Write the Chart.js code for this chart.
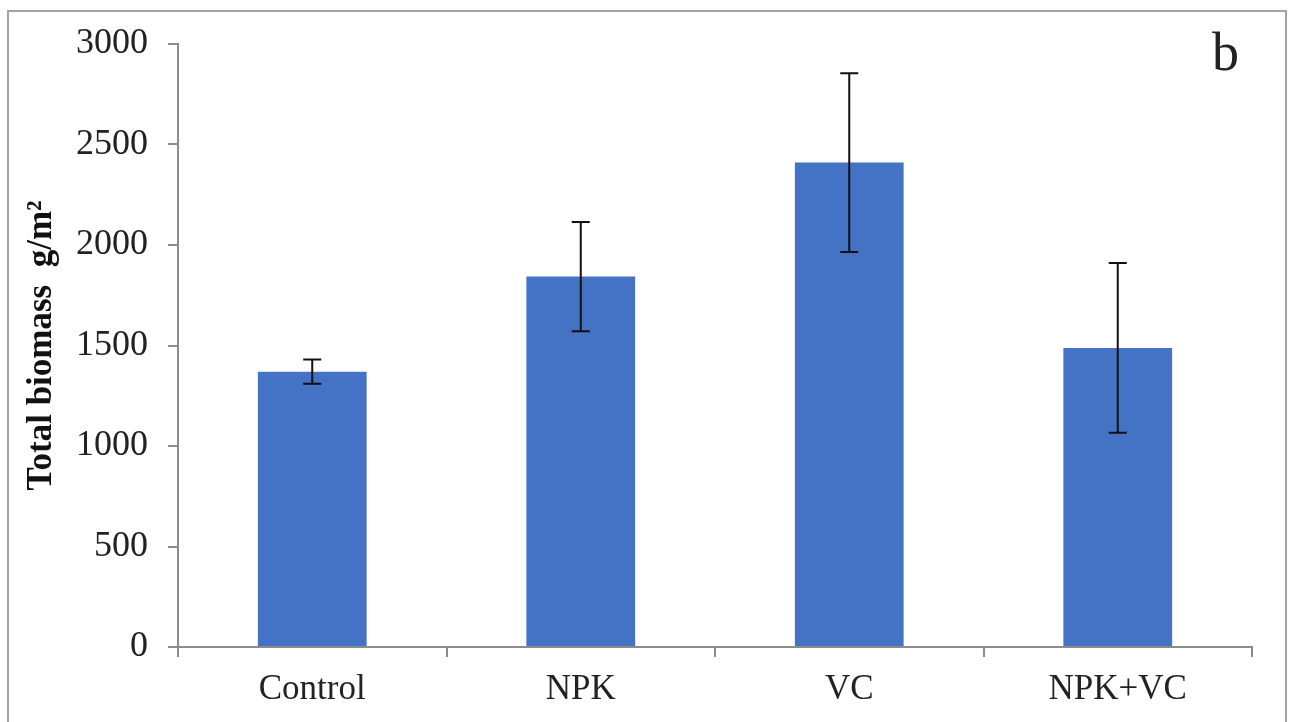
<!DOCTYPE html>
<html lang="en">
  <head>
    <meta charset="UTF-8" />
    <title>Total biomass</title>
    <script src="https://cdn.jsdelivr.net/npm/chart.js"></script>
    <style>
      * {
        margin: 0;
        padding: 0;
        box-sizing: border-box;
      }

      body {
        width: 1289px;
        height: 722px;
        background: #fff;
        overflow: hidden;
        position: relative;
      }

      #frame {
        position: absolute;
        left: 7px;
        top: 10px;
        width: 1280px;
        height: 720px;
        border: 2px solid #a3a3a3;
        border-bottom: none;
      }

      #panel-label {
        position: absolute;
        left: 1212px;
        top: 21px;
        font-family: "Liberation Serif", serif;
        font-size: 54px;
        color: #222;
      }

      #chart {
        position: absolute;
        left: 0;
        top: 0;
      }
    </style>
  </head>
  <body>
    <div id="frame"></div>
    <canvas id="chart" width="1289" height="722"></canvas>
    <div id="panel-label">b</div>

    <script>
      // values
      const treatments = ["Control", "NPK", "VC", "NPK+VC"];
      const biomass = [1370, 1843, 2410, 1488];
      const biomassErr = [60, 272, 445, 422];
      const yTicks = [0, 500, 1000, 1500, 2000, 2500, 3000];

      const serif = "'Liberation Serif', 'Times New Roman', serif";
      const axisGray = "#8c8c8c";

      // draws the black error bars on top of each bar
      const errorBars = {
        id: "errorBars",
        afterDatasetsDraw(chart) {
          const ctx = chart.ctx;
          const meta = chart.getDatasetMeta(0);
          const y = chart.scales.y;
          ctx.save();
          ctx.strokeStyle = "#111";
          ctx.lineWidth = 2;
          meta.data.forEach((bar, i) => {
            const hi = y.getPixelForValue(biomass[i] + biomassErr[i]);
            const lo = y.getPixelForValue(biomass[i] - biomassErr[i]);
            const x = bar.x;
            ctx.beginPath();
            ctx.moveTo(x, hi);
            ctx.lineTo(x, lo);
            ctx.moveTo(x - 9, hi);
            ctx.lineTo(x + 9, hi);
            ctx.moveTo(x - 9, lo);
            ctx.lineTo(x + 9, lo);
            ctx.stroke();
          });
          ctx.restore();
        },
      };

      new Chart(document.getElementById("chart"), {
        type: "bar",
        data: {
          labels: treatments,
          datasets: [
            {
              data: biomass,
              backgroundColor: "#4472c4",
              barPercentage: 0.405,
              categoryPercentage: 1,
            },
          ],
        },
        options: {
          responsive: false,
          animation: false,
          layout: {
            padding: { top: 44, right: 37, left: 0, bottom: 0 },
          },
          plugins: {
            legend: { display: false },
            tooltip: { enabled: false },
          },
          scales: {
            x: {
              afterFit(scale) {
                scale.height = 75;
              },
              border: { color: axisGray, width: 2 },
              grid: {
                offset: true,
                drawOnChartArea: false,
                color: axisGray,
                lineWidth: 2,
                tickLength: 10,
              },
              ticks: {
                color: "#222",
                padding: 12,
                font: { family: serif, size: 35 },
              },
            },
            y: {
              min: 0,
              max: 3000,
              afterFit(scale) {
                scale.width = 178;
              },
              afterBuildTicks(scale) {
                scale.ticks = yTicks.map((v) => ({ value: v }));
              },
              border: { color: axisGray, width: 2 },
              grid: {
                drawOnChartArea: false,
                color: axisGray,
                lineWidth: 2,
                tickLength: 10,
              },
              ticks: {
                color: "#222",
                padding: 20,
                font: { family: serif, size: 36 },
                callback: (v) => String(v),
              },
              title: {
                display: true,
                text: "Total biomass  g/m²",
                color: "#111",
                padding: { top: 21, bottom: 0 },
                font: { family: serif, size: 35, weight: "bold" },
              },
            },
          },
        },
        plugins: [errorBars],
      });
    </script>
  </body>
</html>
